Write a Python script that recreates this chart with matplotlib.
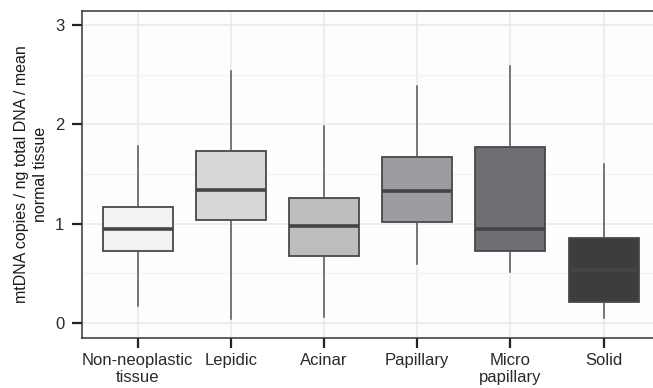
import matplotlib
matplotlib.use('Agg')
import matplotlib.pyplot as plt
from matplotlib.ticker import MultipleLocator

matplotlib.rcParams.update({'font.family': ['Liberation Sans', 'DejaVu Sans'], 'font.size': 12})

# box statistics
categories = ['Non-neoplastic\ntissue', 'Lepidic', 'Acinar', 'Papillary', 'Micro\npapillary', 'Solid']
whisker_low = [0.165, 0.04, 0.055, 0.59, 0.51, 0.05]
q1 = [0.72, 1.04, 0.67, 1.02, 0.72, 0.21]
median = [0.94, 1.34, 0.98, 1.33, 0.94, 0.53]
q3 = [1.17, 1.73, 1.26, 1.67, 1.77, 0.85]
whisker_high = [1.78, 2.54, 1.98, 2.39, 2.59, 1.60]
fills = ['#f1f2f1', '#d6d7d9', '#bdbdbf', '#9b9c9f', '#6e6f73', '#3d3d3f']

stats = []
for i in range(len(categories)):
    stats.append({'whislo': whisker_low[i], 'q1': q1[i], 'med': median[i],
                  'q3': q3[i], 'whishi': whisker_high[i], 'fliers': []})

W, H = 653, 388
fig = plt.figure(figsize=(W / 100, H / 100), dpi=100, facecolor='w')
# axes runs past the right edge, as in the cropped original
left, right, top, bottom = 81.7, 659.5, 10.5, 337.5
ax = fig.add_axes([left / W, 1 - bottom / H, (right - left) / W, (bottom - top) / H])
ax.set_facecolor('#fdfdfd')

pos = list(range(len(categories)))
bp = ax.bxp(stats, positions=pos, widths=0.75, showcaps=False, showfliers=False,
            patch_artist=True,
            boxprops=dict(edgecolor='#484848', linewidth=1.3),
            whiskerprops=dict(color='#555555', linewidth=1.1),
            medianprops=dict(color='#444444', linewidth=2.6))
for patch, c in zip(bp['boxes'], fills):
    patch.set_facecolor(c)
    patch.set_zorder(3)
for ln in bp['whiskers'] + bp['medians']:
    ln.set_zorder(3)

ax.set_xlim(-0.6, len(categories) - 0.4)
ax.set_ylim(-0.15, 3.15)
ax.yaxis.set_major_locator(MultipleLocator(1))
ax.yaxis.set_minor_locator(MultipleLocator(0.5))
ax.set_xticks(pos)
ax.set_xticklabels(categories, linespacing=1.2)

ax.grid(True, which='major', color='#e9e9e9', linewidth=1.1, zorder=0)
ax.grid(True, which='minor', axis='y', color='#f2f2f2', linewidth=0.9, zorder=0)
ax.set_axisbelow(True)

for s in ax.spines.values():
    s.set_color('#333333')
    s.set_linewidth(1.1)
ax.spines['right'].set_visible(False)
ax.tick_params(which='major', length=7, width=1.6, color='#222222', labelcolor='#2a2a2a', pad=4)
ax.tick_params(which='minor', length=0)
ax.tick_params(axis='y', pad=5.5)

ax.set_ylabel('mtDNA copies / ng total DNA / mean\nnormal tissue', color='#1a1a1a',
              fontsize=11.5, linespacing=1.3)
ax.yaxis.set_label_coords((48 - left) / (right - left), 0.5)

fig.savefig('out.png', dpi=100)
